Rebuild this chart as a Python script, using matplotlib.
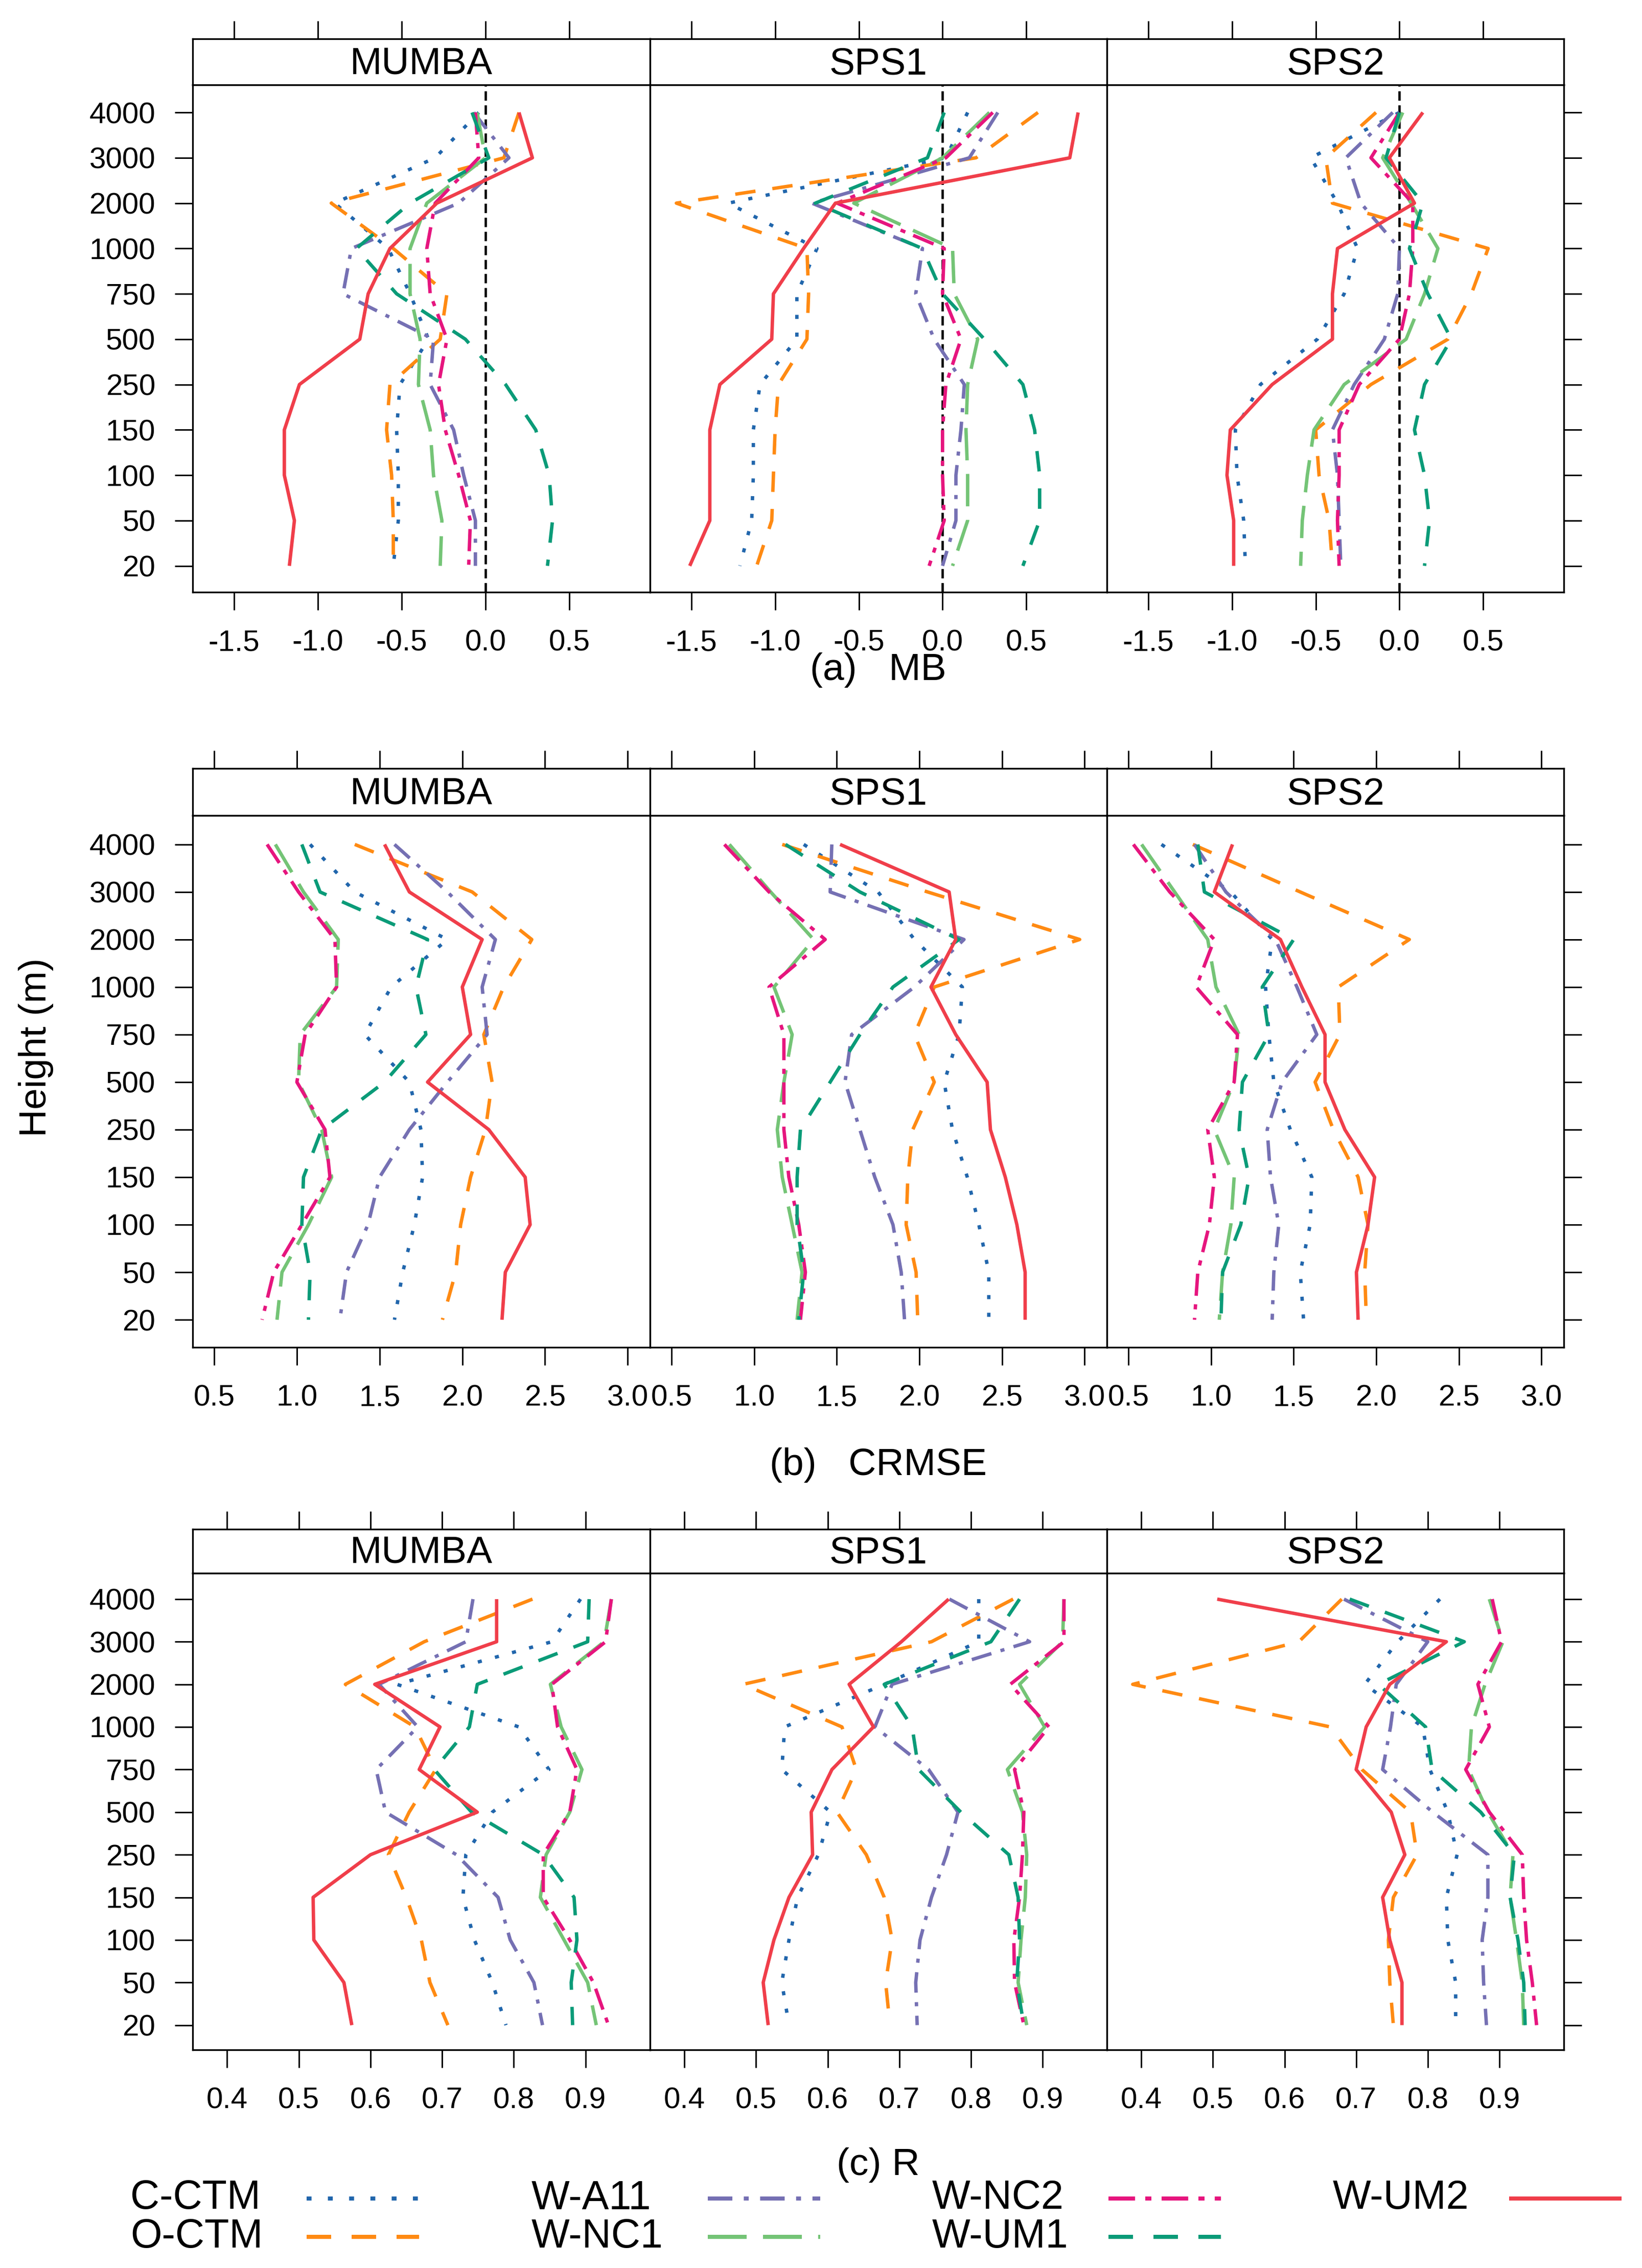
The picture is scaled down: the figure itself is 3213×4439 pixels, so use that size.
import numpy as np
import matplotlib
matplotlib.use('Agg')
import matplotlib.pyplot as plt
from matplotlib.lines import Line2D

plt.rcParams['font.family'] = ['Liberation Sans', 'DejaVu Sans']
plt.rcParams['axes.unicode_minus'] = False

# heights from top to bottom, as in the panels
heights = ['4000', '3000', '2000', '1000', '750', '500', '250', '150', '100', '50', '20']
stations = ['MUMBA', 'SPS1', 'SPS2']
models = ['C-CTM', 'O-CTM', 'W-A11', 'W-NC1', 'W-NC2', 'W-UM1', 'W-UM2']

# ---- (a) MB ----
mb_mumba = {
    'C-CTM': [-0.04, -0.30, -0.90, -0.58, -0.45, -0.34, -0.51, -0.53, -0.52, -0.52, -0.55],
    'O-CTM': [0.20, 0.11, -0.92, -0.55, -0.23, -0.27, -0.57, -0.59, -0.56, -0.55, -0.55],
    'W-A11': [-0.07, 0.14, -0.16, -0.80, -0.85, -0.31, -0.33, -0.19, -0.13, -0.06, -0.06],
    'W-NC1': [-0.05, 0.00, -0.35, -0.45, -0.45, -0.39, -0.40, -0.33, -0.31, -0.26, -0.27],
    'W-NC2': [-0.06, -0.04, -0.30, -0.35, -0.33, -0.23, -0.28, -0.24, -0.16, -0.09, -0.10],
    'W-UM1': [-0.08, 0.02, -0.45, -0.77, -0.53, -0.12, 0.12, 0.30, 0.38, 0.40, 0.37],
    'W-UM2': [0.20, 0.28, -0.29, -0.57, -0.70, -0.75, -1.11, -1.20, -1.20, -1.14, -1.17],
}
mb_sps1 = {
    'C-CTM': [0.15, 0.02, -1.28, -0.75, -0.87, -0.87, -1.09, -1.13, -1.13, -1.14, -1.21],
    'O-CTM': [0.57, 0.20, -1.59, -0.81, -0.80, -0.81, -0.98, -1.00, -1.01, -1.02, -1.11],
    'W-A11': [0.33, 0.16, -0.78, -0.12, -0.16, -0.05, 0.13, 0.11, 0.08, 0.08, 0.00],
    'W-NC1': [0.28, 0.00, -0.53, 0.06, 0.07, 0.21, 0.15, 0.14, 0.15, 0.15, 0.06],
    'W-NC2': [0.30, 0.02, -0.63, 0.01, 0.00, 0.11, 0.02, 0.00, 0.00, 0.01, -0.08],
    'W-UM1': [0.01, -0.09, -0.76, -0.12, 0.00, 0.25, 0.48, 0.55, 0.58, 0.58, 0.48],
    'W-UM2': [0.81, 0.76, -0.64, -0.83, -1.01, -1.02, -1.33, -1.39, -1.39, -1.39, -1.51],
}
mb_sps2 = {
    'C-CTM': [0.00, -0.53, -0.37, -0.25, -0.33, -0.49, -0.83, -0.98, -0.97, -0.93, -0.92],
    'O-CTM': [-0.14, -0.44, -0.40, 0.53, 0.43, 0.29, -0.17, -0.50, -0.48, -0.42, -0.40],
    'W-A11': [-0.04, -0.32, -0.23, 0.00, -0.01, -0.09, -0.27, -0.40, -0.37, -0.36, -0.35],
    'W-NC1': [0.02, -0.10, 0.07, 0.23, 0.15, 0.04, -0.33, -0.51, -0.55, -0.58, -0.59],
    'W-NC2': [0.00, -0.17, 0.08, 0.08, 0.06, 0.00, -0.24, -0.36, -0.36, -0.37, -0.36],
    'W-UM1': [0.00, -0.08, 0.14, 0.06, 0.17, 0.31, 0.15, 0.09, 0.15, 0.18, 0.15],
    'W-UM2': [0.14, -0.06, 0.09, -0.37, -0.40, -0.40, -0.76, -1.01, -1.03, -0.99, -0.99],
}

# ---- (b) CRMSE ----
crmse_mumba = {
    'C-CTM': [1.08, 1.35, 1.91, 1.57, 1.41, 1.68, 1.75, 1.76, 1.71, 1.64, 1.59],
    'O-CTM': [1.35, 2.06, 2.42, 2.25, 2.13, 2.18, 2.14, 2.05, 1.99, 1.96, 1.88],
    'W-A11': [1.59, 1.91, 2.20, 2.12, 2.15, 1.91, 1.68, 1.50, 1.43, 1.30, 1.26],
    'W-NC1': [0.87, 1.04, 1.25, 1.24, 1.02, 1.01, 1.15, 1.21, 1.07, 0.91, 0.88],
    'W-NC2': [0.82, 1.01, 1.23, 1.24, 1.05, 1.00, 1.17, 1.20, 1.03, 0.86, 0.79],
    'W-UM1': [1.03, 1.14, 1.79, 1.72, 1.78, 1.53, 1.15, 1.04, 1.03, 1.08, 1.07],
    'W-UM2': [1.53, 1.68, 2.12, 2.00, 2.05, 1.79, 2.16, 2.38, 2.41, 2.26, 2.24],
}
crmse_sps1 = {
    'C-CTM': [1.30, 1.75, 1.97, 2.26, 2.24, 2.15, 2.20, 2.29, 2.36, 2.42, 2.42],
    'O-CTM': [1.17, 2.05, 2.97, 2.09, 1.97, 2.09, 1.96, 1.93, 1.92, 1.98, 1.99],
    'W-A11': [1.47, 1.46, 2.27, 1.97, 1.59, 1.55, 1.64, 1.73, 1.84, 1.89, 1.91],
    'W-NC1': [0.85, 1.10, 1.36, 1.12, 1.23, 1.18, 1.14, 1.17, 1.23, 1.29, 1.26],
    'W-NC2': [0.82, 1.09, 1.43, 1.09, 1.18, 1.18, 1.18, 1.21, 1.27, 1.31, 1.28],
    'W-UM1': [1.19, 1.64, 2.24, 1.84, 1.64, 1.46, 1.28, 1.26, 1.26, 1.30, 1.27],
    'W-UM2': [1.52, 2.18, 2.22, 2.07, 2.22, 2.41, 2.43, 2.52, 2.59, 2.64, 2.64],
}
crmse_sps2 = {
    'C-CTM': [0.70, 1.12, 1.37, 1.33, 1.35, 1.38, 1.48, 1.61, 1.60, 1.54, 1.56],
    'O-CTM': [0.89, 1.54, 2.20, 1.77, 1.78, 1.63, 1.74, 1.89, 1.95, 1.93, 1.94],
    'W-A11': [0.90, 1.09, 1.39, 1.52, 1.64, 1.43, 1.34, 1.36, 1.41, 1.38, 1.37],
    'W-NC1': [0.58, 0.78, 0.98, 1.03, 1.17, 1.14, 1.02, 1.14, 1.12, 1.07, 1.05],
    'W-NC2': [0.53, 0.75, 1.02, 0.91, 1.16, 1.14, 0.98, 1.02, 0.99, 0.92, 0.90],
    'W-UM1': [0.92, 0.96, 1.50, 1.31, 1.35, 1.19, 1.17, 1.23, 1.18, 1.07, 1.06],
    'W-UM2': [1.13, 1.02, 1.42, 1.55, 1.69, 1.69, 1.81, 1.99, 1.95, 1.88, 1.89],
}

# ---- (c) R ----
r_mumba = {
    'C-CTM': [0.893, 0.853, 0.637, 0.807, 0.849, 0.770, 0.733, 0.729, 0.745, 0.770, 0.789],
    'O-CTM': [0.826, 0.675, 0.565, 0.662, 0.691, 0.654, 0.625, 0.650, 0.671, 0.683, 0.708],
    'W-A11': [0.743, 0.733, 0.612, 0.666, 0.608, 0.621, 0.720, 0.778, 0.795, 0.828, 0.840],
    'W-NC1': [0.936, 0.926, 0.851, 0.866, 0.895, 0.878, 0.845, 0.837, 0.870, 0.903, 0.915],
    'W-NC2': [0.936, 0.928, 0.853, 0.861, 0.888, 0.878, 0.841, 0.841, 0.878, 0.911, 0.932],
    'W-UM1': [0.905, 0.903, 0.749, 0.738, 0.689, 0.741, 0.841, 0.884, 0.888, 0.880, 0.882],
    'W-UM2': [0.776, 0.776, 0.606, 0.697, 0.668, 0.749, 0.600, 0.520, 0.521, 0.563, 0.574],
}
r_sps1 = {
    'C-CTM': [0.811, 0.811, 0.679, 0.540, 0.536, 0.604, 0.587, 0.558, 0.546, 0.536, 0.546],
    'O-CTM': [0.859, 0.745, 0.482, 0.620, 0.640, 0.613, 0.654, 0.679, 0.690, 0.681, 0.687],
    'W-A11': [0.770, 0.882, 0.690, 0.666, 0.741, 0.782, 0.766, 0.745, 0.729, 0.723, 0.725],
    'W-NC1': [0.930, 0.928, 0.868, 0.903, 0.851, 0.872, 0.878, 0.876, 0.870, 0.866, 0.878],
    'W-NC2': [0.930, 0.930, 0.855, 0.909, 0.861, 0.874, 0.872, 0.868, 0.860, 0.861, 0.874],
    'W-UM1': [0.868, 0.828, 0.679, 0.718, 0.727, 0.786, 0.853, 0.866, 0.868, 0.864, 0.874],
    'W-UM2': [0.769, 0.703, 0.630, 0.664, 0.606, 0.577, 0.579, 0.546, 0.525, 0.510, 0.517],
}
r_sps2 = {
    'C-CTM': [0.817, 0.758, 0.712, 0.793, 0.803, 0.828, 0.841, 0.826, 0.828, 0.839, 0.839],
    'O-CTM': [0.680, 0.620, 0.388, 0.664, 0.708, 0.776, 0.785, 0.752, 0.745, 0.747, 0.752],
    'W-A11': [0.683, 0.800, 0.756, 0.748, 0.737, 0.807, 0.884, 0.884, 0.876, 0.878, 0.882],
    'W-NC1': [0.886, 0.905, 0.880, 0.861, 0.857, 0.884, 0.919, 0.915, 0.924, 0.932, 0.934],
    'W-NC2': [0.890, 0.903, 0.870, 0.886, 0.853, 0.886, 0.932, 0.934, 0.938, 0.946, 0.952],
    'W-UM1': [0.691, 0.851, 0.731, 0.797, 0.806, 0.874, 0.921, 0.915, 0.926, 0.934, 0.936],
    'W-UM2': [0.506, 0.826, 0.747, 0.714, 0.700, 0.749, 0.768, 0.737, 0.747, 0.764, 0.764],
}

colors = {'C-CTM': '#2166ac', 'O-CTM': '#ff8a12', 'W-A11': '#7570b3', 'W-NC1': '#74c476',
          'W-NC2': '#e6157e', 'W-UM1': '#0a9b78', 'W-UM2': '#f03e4a'}
styles = {'C-CTM': (0, (1.2, 4.0)), 'O-CTM': (0, (6, 5)), 'W-A11': (0, (6, 2.8, 1.2, 2.8)),
          'W-NC1': (0, (9.5, 4)), 'W-NC2': (0, (6.5, 2.5, 1.5, 2.5)), 'W-UM1': (0, (6, 5)),
          'W-UM2': '-'}
LW = 1.6

rows = [
    dict(data=[mb_mumba, mb_sps1, mb_sps2], xlim=(-1.747, 0.982),
         ticks=[-1.5, -1.0, -0.5, 0.0, 0.5], label='(a)   MB',
         strip_top=76, top=166, bottom=1159, label_y=1312, zero=True),
    dict(data=[crmse_mumba, crmse_sps1, crmse_sps2], xlim=(0.37, 3.135),
         ticks=[0.5, 1.0, 1.5, 2.0, 2.5, 3.0], label='(b)   CRMSE',
         strip_top=1504, top=1596, bottom=2637, label_y=2867, zero=False),
    dict(data=[r_mumba, r_sps1, r_sps2], xlim=(0.352, 0.99),
         ticks=[0.4, 0.5, 0.6, 0.7, 0.8, 0.9], label='(c) R',
         strip_top=2993, top=3079, bottom=4012, label_y=4238, zero=False),
]

W, H = 3213, 4439
col_x = [377, 1272, 2166, 3060]
fig = plt.figure(figsize=(W / 300, H / 300), dpi=300)

ypos = np.arange(len(heights))[::-1]
TL = 8.5

for row in rows:
    for c, st in enumerate(stations):
        x0, x1 = col_x[c], col_x[c + 1]
        ax = fig.add_axes([x0 / W, 1 - row['bottom'] / H, (x1 - x0) / W,
                           (row['bottom'] - row['top']) / H])
        if row['zero']:
            ax.axvline(0, color='k', lw=1.1, ls=(0, (4, 2)), zorder=1)
        d = row['data'][c]
        for m in models:
            ax.plot(d[m], ypos, color=colors[m], lw=LW, ls=styles[m],
                    dash_capstyle='butt', solid_capstyle='butt', zorder=2)
        ax.set_xlim(*row['xlim'])
        ax.set_ylim(-0.58, 10.61)
        ax.set_xticks(row['ticks'])
        ax.set_xticklabels(['%.1f' % t for t in row['ticks']])
        ax.set_yticks(ypos)
        ax.set_yticklabels(heights)
        ax.tick_params(axis='x', direction='out', length=TL, width=0.7, pad=9,
                       labelsize=14, top=False)
        ax.tick_params(axis='y', direction='out', length=TL, width=0.7, pad=9,
                       labelsize=14, left=(c == 0), labelleft=(c == 0),
                       right=(c == 2), labelright=False)
        for s in ax.spines.values():
            s.set_linewidth(0.8)

        # strip with station name, carries the top ticks
        sx = fig.add_axes([x0 / W, 1 - row['top'] / H, (x1 - x0) / W,
                           (row['top'] - row['strip_top']) / H])
        sx.set_xlim(*row['xlim'])
        sx.set_xticks(row['ticks'])
        sx.set_yticks([])
        sx.tick_params(axis='x', direction='out', length=TL, width=0.7,
                       bottom=False, labelbottom=False, top=True, labeltop=False)
        for s in sx.spines.values():
            s.set_linewidth(0.8)
        sx.text(0.5, 0.45, st, transform=sx.transAxes, ha='center', va='center',
                fontsize=18)

    fig.text((col_x[0] + col_x[3]) / 2 / W, 1 - row['label_y'] / H, row['label'],
             ha='center', va='center', fontsize=18)

fig.text(71 / W, 1 - 2050 / H, 'Height (m)', rotation=90, ha='center',
         va='center', fontsize=18)

# legend, laid out in columns as in the original
leg_cols = [[('C-CTM', 0), ('O-CTM', 1)], [('W-A11', 0), ('W-NC1', 1)],
            [('W-NC2', 0), ('W-UM1', 1)], [('W-UM2', 0)]]
leg_x = [255, 1040, 1824, 2608]
row_y = [4303, 4378]
for cx, entries in zip(leg_x, leg_cols):
    for m, r in entries:
        yy = 1 - row_y[r] / H
        fig.text(cx / W, yy, m, ha='left', va='center', fontsize=19)
        ln = Line2D([(cx + 345) / W, (cx + 565) / W], [yy, yy],
                    transform=fig.transFigure, color=colors[m], lw=LW * 1.2,
                    ls=styles[m], dash_capstyle='butt', solid_capstyle='butt')
        fig.add_artist(ln)

fig.savefig('out.png', dpi=300, facecolor='white')
